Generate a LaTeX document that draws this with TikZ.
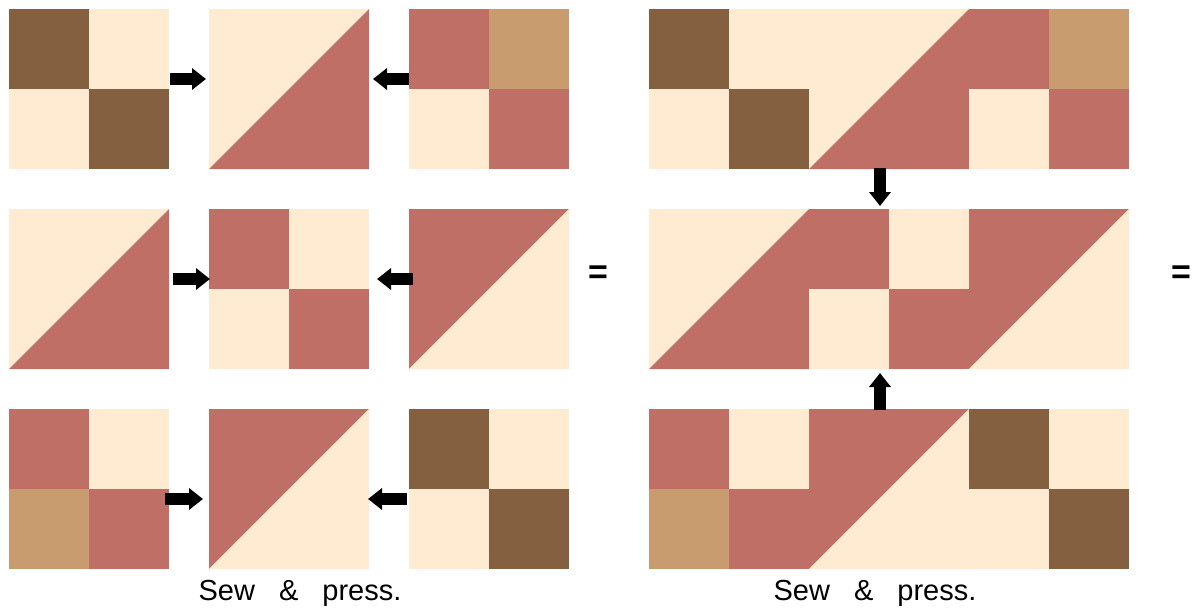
\documentclass[tikz,border=0pt]{standalone}
\usepackage{fontspec}
\usepackage{xcolor}
\usetikzlibrary{arrows.meta}
\usetikzlibrary{calc}
\newfontfamily\labelfont{Liberation Sans}
\definecolor{bark}{HTML}{845F40}
\definecolor{cream}{HTML}{FFEBD2}
\definecolor{brick}{HTML}{C06F66}
\definecolor{sand}{HTML}{C89C6E}
% four patch: x y (top left corner), then tl tr bl br
\newcommand{\fourpatch}[6]{
	\fill[#3] (#1,#2) rectangle ++(80,80);
	\fill[#4] (#1+80,#2) rectangle ++(80,80);
	\fill[#5] (#1,#2+80) rectangle ++(80,80);
	\fill[#6] (#1+80,#2+80) rectangle ++(80,80);
}
% half square triangle: x y, then upper left and lower right
\newcommand{\halfsquare}[4]{
	\fill[#3] (#1,#2) -- ++(160,0) -- ++(-160,160) -- cycle;
	\fill[#4] (#1+160,#2) -- ++(0,160) -- ++(-160,0) -- cycle;
}
\tikzset{
	sewarrow/.style={line width=12pt,-{Triangle[width=21pt,length=14pt]}},
	sewtext/.style={anchor=base,inner sep=0pt,font=\labelfont\fontsize{29}{34}\selectfont},
	eqsign/.style={anchor=base,inner sep=0pt,font=\labelfont\bfseries\fontsize{34}{40}\selectfont}
}

\begin{document}
\begin{tikzpicture}[x=1pt,y=-1pt]
	\useasboundingbox (0,0) rectangle (1197,608);

	\foreach \a/\b/\c in {9/209/409, 649/809/969} {
		\fourpatch{\a}{9}{bark}{cream}{cream}{bark}
		\halfsquare{\b}{9}{cream}{brick}
		\fourpatch{\c}{9}{brick}{sand}{cream}{brick}

		\halfsquare{\a}{209}{cream}{brick}
		\fourpatch{\b}{209}{brick}{cream}{cream}{brick}
		\halfsquare{\c}{209}{brick}{cream}

		\fourpatch{\a}{409}{brick}{cream}{sand}{brick}
		\halfsquare{\b}{409}{brick}{cream}
		\fourpatch{\c}{409}{bark}{cream}{cream}{bark}
	}

	\coordinate (r1a) at (170,79);
	\coordinate (r1b) at (206,79);
	\coordinate (r1c) at (409,79);
	\coordinate (r1d) at (373,79);
	\coordinate (r2a) at (173,279);
	\coordinate (r2b) at (210,279);
	\coordinate (r2c) at (413,279);
	\coordinate (r2d) at (377,279);
	\coordinate (r3a) at (165,499);
	\coordinate (r3b) at (203,499);
	\coordinate (r3c) at (407,499);
	\coordinate (r3d) at (368,499);
	\coordinate (topa) at (880,168);
	\coordinate (topb) at (880,206);
	\coordinate (bota) at (880,410);
	\coordinate (botb) at (880,373);

	\draw[sewarrow] (r1a) -- (r1b);
	\draw[sewarrow] (r1c) -- (r1d);
	\draw[sewarrow] (r2a) -- (r2b);
	\draw[sewarrow] (r2c) -- (r2d);
	\draw[sewarrow] (r3a) -- (r3b);
	\draw[sewarrow] (r3c) -- (r3d);
	\draw[sewarrow] (topa) -- (topb);
	\draw[sewarrow] (bota) -- (botb);

	\node[eqsign] (eqleft) at (598,283) {=};
	\node[eqsign] (eqright) at (1181,283) {=};

	\node[sewtext] (sewleft) at (300,600) {Sew\hspace{24pt}\&\hspace{24pt}press.};
	\node[sewtext] (sewright) at (875,600) {Sew\hspace{24pt}\&\hspace{24pt}press.};
\end{tikzpicture}
\end{document}
